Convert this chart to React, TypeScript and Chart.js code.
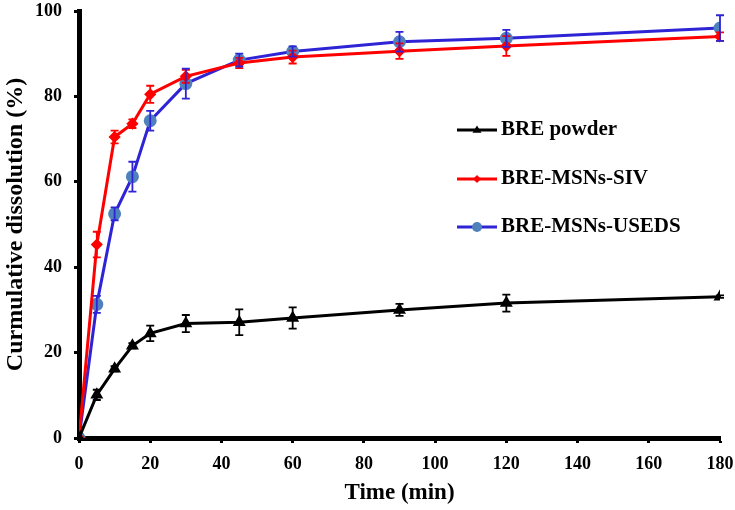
import React, { useEffect, useRef } from "react";
import { Chart, registerables } from "chart.js";

Chart.register(...registerables);

const timeMin = [0, 5, 10, 15, 20, 30, 45, 60, 90, 120, 180];
const powderValues = [0, 10.1, 16.2, 21.6, 24.5, 26.8, 27.1, 28.1, 30.0, 31.6, 33.1];
const powderErrors = [0, 1.2, 0.6, 0.6, 1.8, 2.0, 3.0, 2.5, 1.4, 2.0, 0.3];
const sivValues = [0, 45.3, 70.5, 73.6, 80.5, 84.7, 87.8, 89.2, 90.6, 91.8, 94.0];
const sivErrors = [0, 3.0, 1.5, 1.0, 2.0, 1.5, 1.2, 1.5, 1.8, 2.3, 1.0];
const usedsValues = [0, 31.3, 52.5, 61.2, 74.3, 83.0, 88.5, 90.5, 92.8, 93.6, 96.0];
const usedsErrors = [0, 2.0, 1.5, 3.5, 2.3, 3.5, 1.5, 1.2, 2.3, 2.0, 3.0];
const seriesNames = ["BRE powder", "BRE-MSNs-SIV", "BRE-MSNs-USEDS"];
const xTicks = [0, 20, 40, 60, 80, 100, 120, 140, 160, 180];
const yTicks = [0, 20, 40, 60, 80, 100];

const FONT = "'Liberation Serif', 'Times New Roman', serif";
const errorsBySeries = [powderErrors, sivErrors, usedsErrors];

const errorBarPlugin = {
  id: "errorBars",
  afterDatasetsDraw(chart: any) {
    const ctx = chart.ctx;
    const yScale = chart.scales.y;
    const xScale = chart.scales.x;
    chart.data.datasets.forEach((ds: any, i: number) => {
      const errs = errorsBySeries[i];
      ctx.save();
      ctx.strokeStyle = ds.borderColor;
      ctx.lineWidth = 1.8;
      ds.data.forEach((pt: any, j: number) => {
        const e = errs[j];
        if (!e) return;
        const x = xScale.getPixelForValue(pt.x);
        const y1 = yScale.getPixelForValue(pt.y - e);
        const y2 = yScale.getPixelForValue(pt.y + e);
        ctx.beginPath();
        ctx.moveTo(x, y1);
        ctx.lineTo(x, y2);
        ctx.moveTo(x - 4, y1);
        ctx.lineTo(x + 4, y1);
        ctx.moveTo(x - 4, y2);
        ctx.lineTo(x + 4, y2);
        ctx.stroke();
      });
      ctx.restore();
    });
  },
};

const legendPlugin = {
  id: "insideLegend",
  afterDraw(chart: any) {
    const ctx = chart.ctx;
    const ys = [130, 179, 227];
    chart.data.datasets.forEach((ds: any, i: number) => {
      const y = ys[i];
      ctx.save();
      ctx.strokeStyle = ds.borderColor;
      ctx.lineWidth = 3;
      ctx.beginPath();
      ctx.moveTo(457, y);
      ctx.lineTo(497, y);
      ctx.stroke();
      ctx.fillStyle = ds.pointBackgroundColor;
      const r = ds.pointRadius;
      ctx.beginPath();
      if (ds.pointStyle === "triangle") {
        ctx.moveTo(477, y - r);
        ctx.lineTo(477 + r, y + r * 0.6);
        ctx.lineTo(477 - r, y + r * 0.6);
        ctx.closePath();
      } else if (ds.pointStyle === "rectRot") {
        ctx.moveTo(477, y - r);
        ctx.lineTo(477 + r, y);
        ctx.lineTo(477, y + r);
        ctx.lineTo(477 - r, y);
        ctx.closePath();
      } else {
        ctx.arc(477, y, r, 0, Math.PI * 2);
      }
      ctx.fill();
      ctx.fillStyle = "#000";
      ctx.font = `bold 21px ${FONT}`;
      ctx.textBaseline = "middle";
      ctx.textAlign = "left";
      ctx.fillText(seriesNames[i], 501, y);
      ctx.restore();
    });
  },
};

export default function App() {
  const ref = useRef<HTMLCanvasElement | null>(null);
  useEffect(() => {
    if (!ref.current) return;
    const mk = (vals: number[]) => vals.map((v, i) => ({ x: timeMin[i], y: v }));
    const chart = new Chart(ref.current, {
      type: "line",
      data: {
        datasets: [
          {
            label: seriesNames[0],
            data: mk(powderValues),
            borderColor: "#000000",
            backgroundColor: "#000000",
            pointBackgroundColor: "#000000",
            pointBorderColor: "#000000",
            pointStyle: "triangle",
            pointRadius: 4.5,
            borderWidth: 3,
          },
          {
            label: seriesNames[1],
            data: mk(sivValues),
            borderColor: "#ff0000",
            backgroundColor: "#ff0000",
            pointBackgroundColor: "#ff0000",
            pointBorderColor: "#ff0000",
            pointStyle: "rectRot",
            pointRadius: 4,
            borderWidth: 3,
          },
          {
            label: seriesNames[2],
            data: mk(usedsValues),
            borderColor: "#2e24d6",
            backgroundColor: "#4f81bd",
            pointBackgroundColor: "#4f81bd",
            pointBorderColor: "#4f81bd",
            pointStyle: "circle",
            pointRadius: 5,
            borderWidth: 3,
          },
        ] as any,
      },
      options: {
        animation: false,
        responsive: false,
        devicePixelRatio: 1,
        layout: { padding: { top: 11, right: 15, left: 0, bottom: 0 } },
        plugins: { legend: { display: false }, tooltip: { enabled: false } },
        scales: {
          x: {
            type: "linear",
            min: 0,
            max: 180,
            afterBuildTicks: (s: any) => {
              s.ticks = xTicks.map((v) => ({ value: v }));
            },
            afterFit: (s: any) => {
              s.height = 72;
              s.paddingLeft = 0;
              s.paddingRight = 0;
            },
            grid: {
              display: true,
              drawOnChartArea: false,
              drawTicks: true,
              tickLength: 5,
              tickWidth: 3,
              tickColor: "#000",
            },
            border: { display: true, color: "#000", width: 5 },
            ticks: {
              color: "#000",
              padding: 11,
              maxRotation: 0,
              font: { family: FONT, size: 18, weight: "bold" },
            },
            title: {
              display: true,
              text: "Time (min)",
              color: "#000",
              padding: { top: 0, bottom: 3 },
              font: { family: FONT, size: 23, weight: "bold" },
            },
          },
          y: {
            type: "linear",
            min: 0,
            max: 100,
            afterBuildTicks: (s: any) => {
              s.ticks = yTicks.map((v) => ({ value: v }));
            },
            afterFit: (s: any) => {
              s.width = 79;
              s.paddingTop = 0;
              s.paddingBottom = 0;
            },
            grid: {
              display: true,
              drawOnChartArea: false,
              drawTicks: true,
              tickLength: 5,
              tickWidth: 3,
              tickColor: "#000",
            },
            border: { display: true, color: "#000", width: 5 },
            ticks: {
              color: "#000",
              padding: 12,
              font: { family: FONT, size: 18, weight: "bold" },
            },
            title: {
              display: true,
              text: "Curmulative dissolution (%)",
              color: "#000",
              padding: { top: 1, bottom: 0 },
              font: { family: FONT, size: 24, weight: "bold" },
            },
          },
        },
      } as any,
      plugins: [errorBarPlugin, legendPlugin],
    });
    return () => chart.destroy();
  }, []);
  return (
    <div style={{ position: "fixed", left: 0, top: 0, width: 735, height: 510, background: "#fff" }}>
      <canvas ref={ref} width={735} height={510} style={{ width: 735, height: 510, display: "block" }} />
    </div>
  );
}
